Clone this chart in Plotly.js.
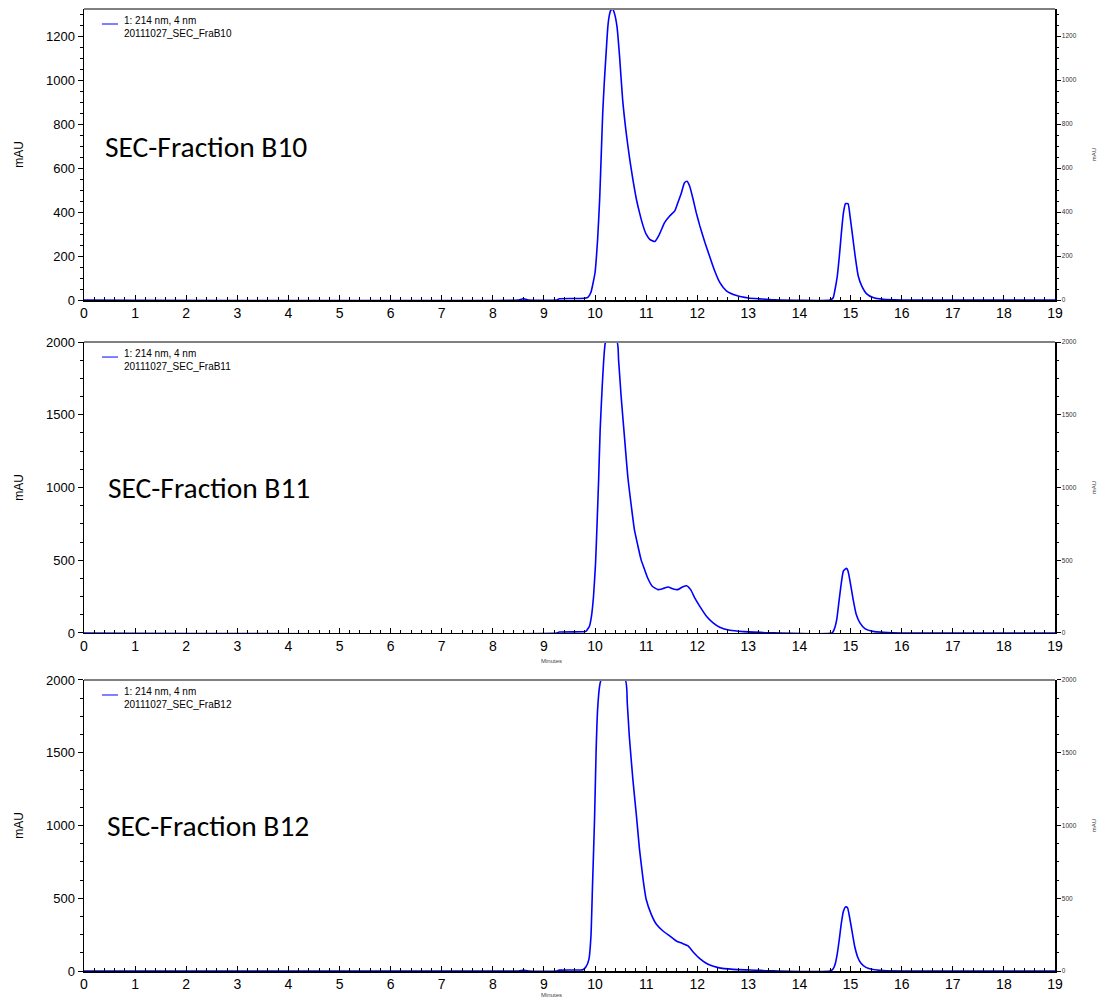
<!DOCTYPE html>
<html>
<head>
<meta charset="utf-8">
<script src="https://cdn.plot.ly/plotly-3.0.1.min.js"></script>
<style>html,body{margin:0;padding:0;background:#fff;}#chart{width:1101px;height:1003px;}</style>
</head>
<body>
<div id="chart"></div>
<script>
// ---- Data ----
const xTicks = [0,1,2,3,4,5,6,7,8,9,10,11,12,13,14,15,16,17,18,19];

const timeB10 = [0, 8.5, 8.56, 8.6, 8.64, 8.7, 9.25, 9.3, 9.7, 9.8, 9.86, 9.92, 9.95, 10.0, 10.05, 10.09, 10.12, 10.15, 10.18, 10.22, 10.25, 10.28, 10.31, 10.35, 10.38, 10.43, 10.48, 10.54, 10.61, 10.67, 10.74, 10.81, 10.87, 10.94, 11.0, 11.07, 11.17, 11.26, 11.36, 11.46, 11.56, 11.62, 11.69, 11.75, 11.80, 11.85, 11.92, 11.98, 12.05, 12.15, 12.25, 12.34, 12.44, 12.57, 12.77, 13.0, 13.23, 13.5, 14.6, 14.66, 14.69, 14.74, 14.78, 14.82, 14.86, 14.90, 14.95, 14.99, 15.04, 15.09, 15.15, 15.22, 15.31, 15.44, 15.64, 16.0, 19];
const mauB10 = [0, 0, 3, 6, 3, 0, 0, 6, 7, 8, 12, 35, 65, 125, 276, 457, 654, 850, 986, 1137, 1242, 1295, 1318, 1321, 1303, 1242, 1107, 910, 759, 654, 548, 457, 397, 337, 299, 276, 266, 299, 352, 382, 405, 442, 488, 533, 540, 518, 457, 397, 337, 261, 193, 133, 80, 42, 20, 9, 5, 1, 0, 10, 41, 109, 199, 305, 396, 438, 438, 380, 290, 199, 109, 63, 29, 11, 3, 0, 0];

const timeB11 = [0, 9.25, 9.3, 9.75, 9.82, 9.89, 9.93, 9.97, 10.01, 10.04, 10.07, 10.10, 10.14, 10.17, 10.20, 10.22, 10.43, 10.46, 10.51, 10.58, 10.64, 10.71, 10.77, 10.84, 10.90, 10.97, 11.03, 11.12, 11.23, 11.33, 11.43, 11.53, 11.62, 11.71, 11.79, 11.87, 11.95, 12.05, 12.18, 12.31, 12.44, 12.64, 12.9, 13.23, 13.5, 14.64, 14.68, 14.73, 14.77, 14.82, 14.86, 14.92, 14.95, 15.0, 15.05, 15.11, 15.18, 15.28, 15.44, 15.64, 16.0, 19];
const mauB11 = [0, 0, 6, 8, 11, 46, 115, 252, 481, 756, 1054, 1397, 1695, 1879, 1993, 2000, 2000, 1879, 1627, 1329, 1077, 871, 710, 596, 504, 435, 378, 321, 298, 305, 316, 302, 298, 316, 325, 298, 241, 183, 115, 69, 39, 18, 9, 4, 1, 0, 25, 94, 208, 346, 426, 444, 426, 334, 231, 128, 71, 30, 11, 5, 0, 0];

const timeB12 = [0, 8.5, 8.56, 8.6, 8.64, 8.7, 9.25, 9.3, 9.7, 9.76, 9.82, 9.88, 9.92, 9.95, 9.99, 10.02, 10.05, 10.09, 10.12, 10.59, 10.63, 10.67, 10.74, 10.81, 10.87, 10.94, 11.0, 11.1, 11.2, 11.33, 11.46, 11.59, 11.72, 11.82, 11.92, 12.05, 12.21, 12.41, 12.70, 13.03, 13.23, 13.5, 14.6, 14.66, 14.7, 14.74, 14.78, 14.82, 14.86, 14.9, 14.94, 14.98, 15.03, 15.08, 15.14, 15.2, 15.3, 15.44, 15.64, 16, 19];
const mauB12 = [0, 0, 3, 6, 3, 0, 0, 6, 7, 8, 27, 80, 240, 584, 1042, 1500, 1798, 1959, 2000, 2000, 1844, 1615, 1317, 1065, 836, 630, 493, 389, 321, 275, 241, 206, 188, 172, 131, 85, 46, 23, 11, 7, 4, 1, 0, 15, 50, 120, 220, 330, 410, 440, 435, 370, 270, 170, 95, 55, 25, 10, 3, 0, 0];

const panelLabels = ["SEC-Fraction B10", "SEC-Fraction B11", "SEC-Fraction B12"];
const legendLines = ["1: 214 nm, 4 nm<br>20111027_SEC_FraB10", "1: 214 nm, 4 nm<br>20111027_SEC_FraB11", "1: 214 nm, 4 nm<br>20111027_SEC_FraB12"];
const yMax = [1323, 2000, 2000];
const yDtick = [200, 500, 500];
const yMinor = [50, 125, 125];

// ---- Build figure ----
const FONT = "Liberation Sans, Arial, sans-serif";
const BLUE = "#0000ff";
const series = [[timeB10, mauB10], [timeB11, mauB11], [timeB12, mauB12]];
const domains = [[0.6975, 1.0], [0.3514, 0.6538], [0.0, 0.3025]];

const traces = [];
const layout = {
  width: 1101, height: 1003,
  margin: {l: 84, r: 46, t: 9, b: 32},
  paper_bgcolor: "#fff", plot_bgcolor: "#fff",
  showlegend: false,
  font: {family: FONT, color: "#000"},
  shapes: [], annotations: []
};

for (let i = 0; i < 3; i++) {
  const xa = i === 0 ? "x" : "x" + (i + 1);
  const ya = i === 0 ? "y" : "y" + (i + 1);
  const yr = "y" + (i + 4);
  const xKey = i === 0 ? "xaxis" : "xaxis" + (i + 1);
  const yKey = i === 0 ? "yaxis" : "yaxis" + (i + 1);
  const yrKey = "yaxis" + (i + 4);

  traces.push({
    x: series[i][0], y: series[i][1], xaxis: xa, yaxis: ya,
    type: "scatter", mode: "lines", line: {color: BLUE, width: 1.6, shape: "spline", smoothing: 0.5},
    hoverinfo: "skip"
  });
  // invisible companion trace so the right-hand axis is rendered
  traces.push({
    x: series[i][0], y: series[i][1], xaxis: xa, yaxis: yr,
    type: "scatter", mode: "lines", line: {color: "rgba(0,0,0,0)", width: 0},
    hoverinfo: "skip"
  });

  layout[xKey] = {
    domain: [0, 1], anchor: ya, range: [0, 19],
    tickvals: xTicks, ticks: "inside", ticklen: 5, tickcolor: "#000",
    showline: true, linecolor: "#000", linewidth: 1.5,
    showgrid: false, zeroline: false,
    tickfont: {size: 14, family: FONT, color: "#000"},
    minor: {dtick: 0.2, ticks: "inside", ticklen: 3, tickcolor: "#000", showgrid: false}
  };
  layout[yKey] = {
    domain: domains[i], anchor: xa, range: [0, yMax[i]],
    dtick: yDtick[i], tick0: 0, ticks: "outside", ticklen: 5, tickcolor: "#000",
    showline: true, linecolor: "#000", linewidth: 1.5,
    showgrid: false, zeroline: false,
    tickfont: {size: 13, family: FONT, color: "#000"},
    minor: {dtick: yMinor[i], ticks: "outside", ticklen: 3, tickcolor: "#000", showgrid: false},
    title: {text: "mAU", font: {size: 12, family: FONT, color: "#000"}, standoff: 20}
  };
  layout[yrKey] = {
    overlaying: ya, side: "right", anchor: xa, range: [0, yMax[i]],
    dtick: yDtick[i], tick0: 0, ticks: "outside", ticklen: 4, tickcolor: "#000",
    showline: true, linecolor: "#000", linewidth: 1.5,
    showgrid: false, zeroline: false,
    tickfont: {size: 6.5, family: FONT, color: "#333"},
    minor: {dtick: yMinor[i], ticks: "outside", ticklen: 2, tickcolor: "#000", showgrid: false},
    title: {text: "mAU", font: {size: 6, family: FONT, color: "#333"}, standoff: 16}
  };

  // gray top border
  layout.shapes.push({
    type: "line", xref: xa + " domain", yref: ya + " domain",
    x0: 0, x1: 1, y0: 1, y1: 1, line: {color: "#808080", width: 2}
  });
  // legend sample line
  layout.shapes.push({
    type: "line", xref: xa + " domain", yref: ya + " domain",
    x0: 0.0185, x1: 0.035, y0: -15, y1: -15, ysizemode: "pixel", yanchor: 1,
    line: {color: BLUE, width: 1}
  });
  // legend text
  layout.annotations.push({
    xref: xa + " domain", yref: ya + " domain", x: 0.0395, y: 1,
    xanchor: "left", yanchor: "top", yshift: -4, align: "left", showarrow: false,
    text: legendLines[i], font: {size: 10, family: FONT, color: "#000"}
  });
  // panel label
  layout.annotations.push({
    xref: xa + " domain", yref: ya + " domain", x: [0.0196, 0.0227, 0.0216][i], y: [0.526, 0.498, 0.498][i],
    xanchor: "left", yanchor: "middle", showarrow: false,
    text: panelLabels[i], font: {size: 29.5, family: "Carlito, Lato, sans-serif", color: "#000"}
  });
  if (i > 0) {
    layout.annotations.push({
      xref: xa + " domain", yref: ya + " domain", x: 0.481, y: 0,
      xanchor: "center", yanchor: "middle", yshift: i === 1 ? -28 : -24, showarrow: false,
      text: "Minutes", font: {size: 6, family: FONT, color: "#444"}
    });
  }
}

Plotly.newPlot("chart", traces, layout, {displayModeBar: false, staticPlot: true});
</script>
</body>
</html>
